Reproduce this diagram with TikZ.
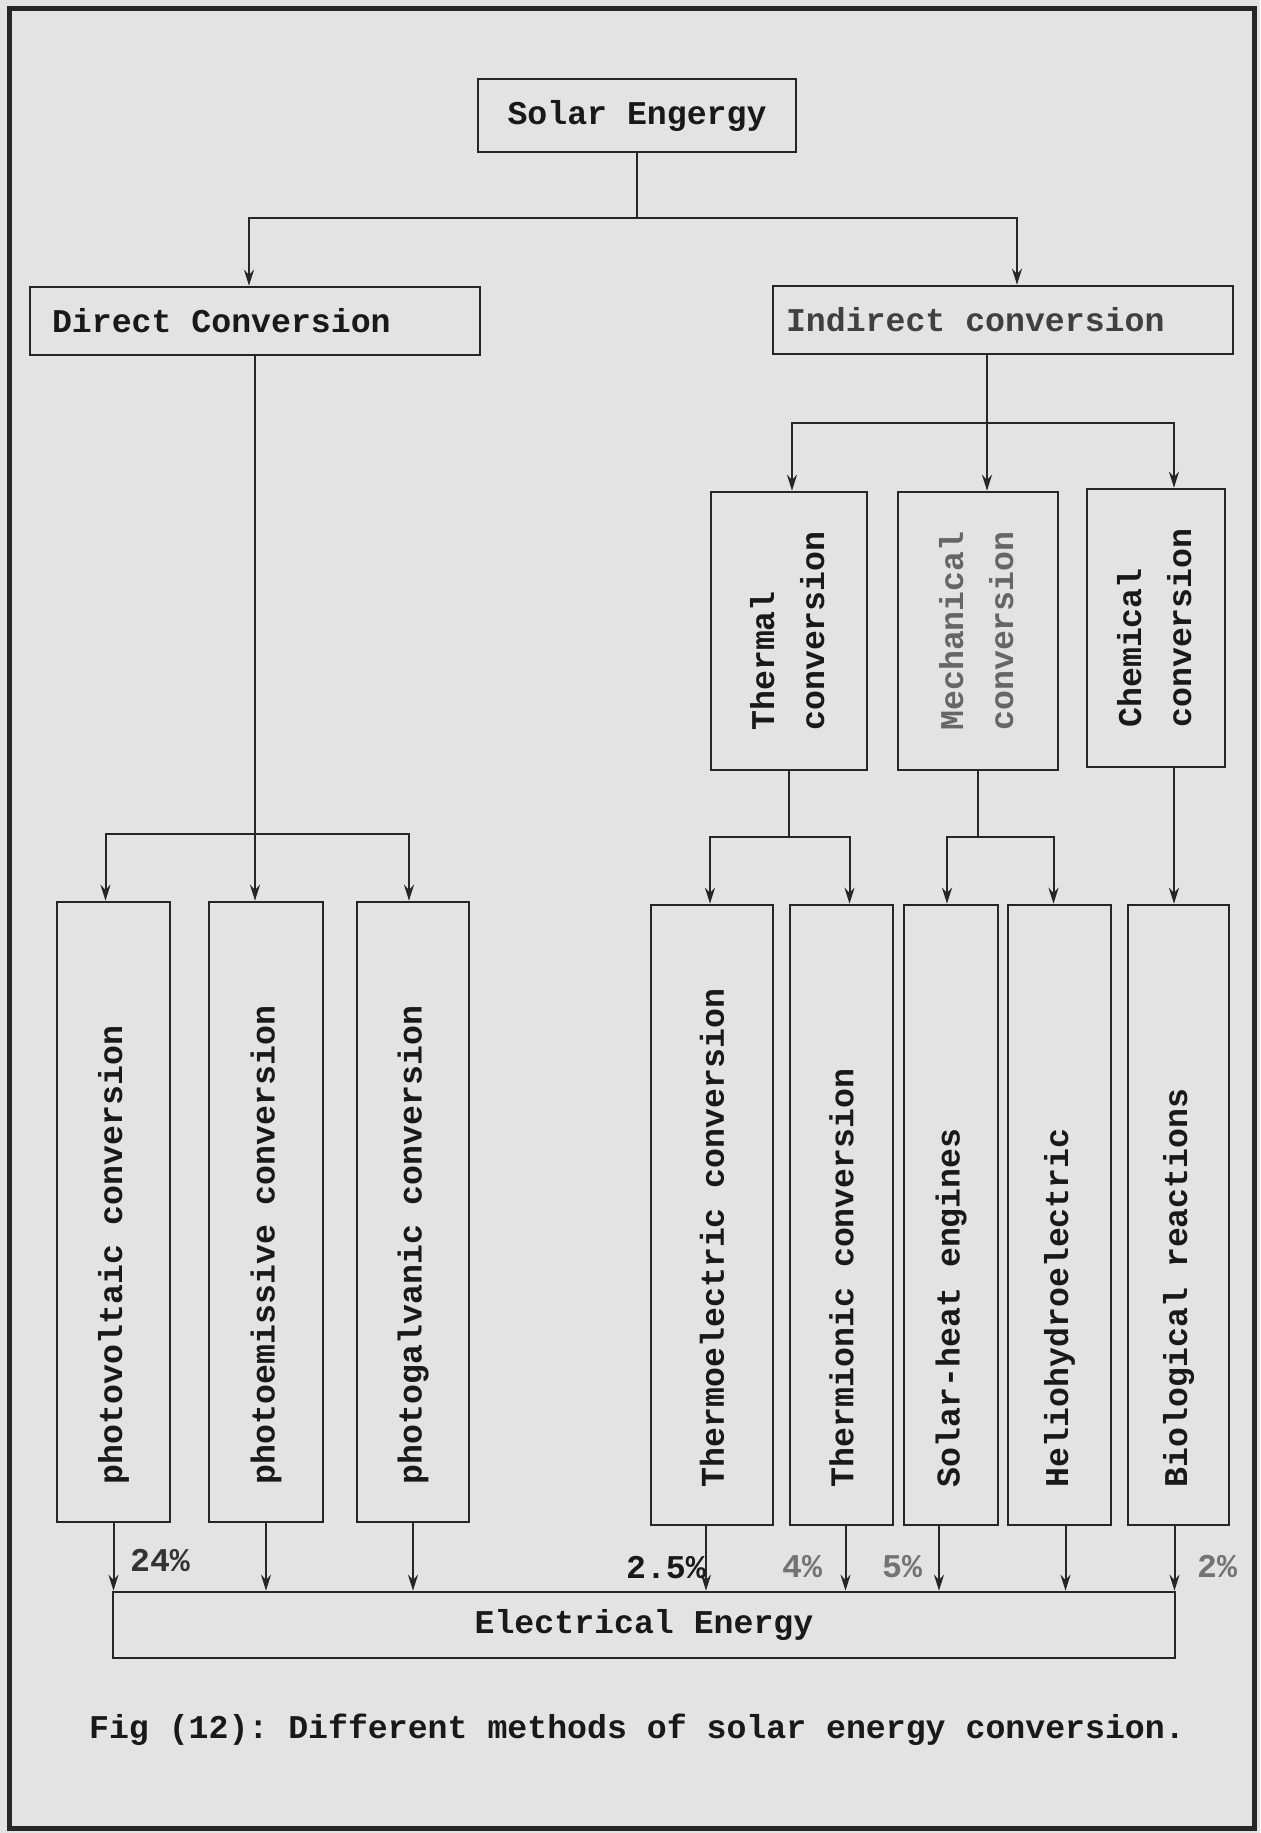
\documentclass[tikz,border=0pt]{standalone}
\usepackage{fontspec}
\setmonofont{Liberation Mono}
\usepackage{graphicx}
\usetikzlibrary{arrows.meta, positioning, calc}

\newcommand{\vtext}[1]{\rotatebox{90}{\makebox[272pt][l]{#1}}}
\newcommand{\vpair}[2]{\rotatebox{90}{\begin{tabular}{@{}l@{}}#1\\#2\end{tabular}}}

\begin{document}
\begin{tikzpicture}[x=0.5pt, y=-0.5pt,
  font=\ttfamily\bfseries\fontsize{16.6}{25}\selectfont,
  cell/.style={draw=black!85, line width=1.3pt, text=black!90, inner sep=0pt},
  tallcell/.style={cell, minimum height=310pt},
  wire/.style={draw=black!85, line width=1pt},
  arr/.style={wire, -{Stealth[length=8pt, width=5pt]}},
  pct/.style={text=black!80, inner sep=0pt}]

% Paper and frame.
\fill[black!11] (0,0) rectangle (1260,1833);
\useasboundingbox (0,0) rectangle (1260,1833);
\draw[line width=2.5pt, black!85] (9,8) rectangle (1254,1828);

% Top levels.
\node[cell, minimum width=159pt, minimum height=36.5pt] (solar) at (637,115.5) {Solar Engergy};
\node[cell, inner xsep=11pt, minimum height=34pt]
  (direct) at (255,321) {\makebox[203pt][l]{Direct Conversion}};
\node[cell, inner xsep=6.5pt, minimum height=34pt, text=black!75]
  (indirect) at (1003,320) {\makebox[217pt][l]{Indirect conversion}};

% Indirect branches.
\node[cell, minimum width=78pt, minimum height=139pt] (thermal) at (789,631) {\vpair{Thermal}{conversion}};
\node[cell, minimum width=80pt, minimum height=139pt, text=black!60] (mech) at (978,631) {\vpair{Mechanical}{conversion}};
\node[cell, minimum width=69pt, minimum height=139pt] (chem) at (1156,628) {\vpair{Chemical}{conversion}};

% Methods.
\node[tallcell, minimum width=56.5pt] (pv) at (113.5,1212) {\vtext{photovoltaic conversion}};
\node[tallcell, minimum width=57pt] (pe) at (266,1212) {\vtext{photoemissive conversion}};
\node[tallcell, minimum width=56pt] (pg) at (413,1212) {\vtext{photogalvanic conversion}};
\node[tallcell, minimum width=61pt] (te) at (712,1215) {\vtext{Thermoelectric conversion}};
\node[tallcell, minimum width=51.5pt] (ti) at (841.5,1215) {\vtext{Thermionic conversion}};
\node[tallcell, minimum width=47pt] (sh) at (951,1215) {\vtext{Solar-heat engines}};
\node[tallcell, minimum width=51.5pt] (hh) at (1059.5,1215) {\vtext{Heliohydroelectric}};
\node[tallcell, minimum width=50.5pt] (br) at (1178.5,1215) {\vtext{Biological reactions}};

\node[cell, minimum width=531pt, minimum height=33pt] (elec) at (644,1625) {Electrical Energy};

% Solar energy to the two conversion routes.
\coordinate (split1) at (solar.south |- 0,218);
\draw[wire] (solar.south) -- (split1);
\draw[arr] (split1) -| ([xshift=-3pt]direct.north);
\draw[arr] (split1) -| ([xshift=7pt]indirect.north);

% Indirect conversion.
\coordinate (istem) at ([xshift=-8pt]indirect.south);
\coordinate (split2) at (istem |- 0,423);
\draw[arr] (istem) -- (istem |- mech.north);
\draw[arr] (split2) -| ([xshift=1.5pt]thermal.north);
\draw[arr] (split2) -| ([xshift=9pt]chem.north);

% Direct conversion.
\coordinate (split3) at (direct.south |- 0,834);
\draw[wire] (direct.south) -- (split3);
\draw[arr] (split3) -- (split3 |- pe.north);
\draw[arr] (split3) -| ([xshift=-4pt]pv.north);
\draw[arr] (split3) -| ([xshift=-2pt]pg.north);

% Thermal and mechanical.
\coordinate (split4) at (thermal.south |- 0,837);
\coordinate (split5) at (mech.south |- 0,837);
\draw[wire] (thermal.south) -- (split4);
\draw[wire] (mech.south) -- (split5);
\draw[arr] (split4) -| ([xshift=-1pt]te.north);
\draw[arr] (split4) -| ([xshift=4pt]ti.north);
\draw[arr] (split5) -| ([xshift=-2pt]sh.north);
\draw[arr] (split5) -| ([xshift=-3pt]hh.north);
\coordinate (cstem) at ([xshift=9pt]chem.south);
\draw[arr] (cstem) -- (cstem |- br.north);

% Into electrical energy.
\coordinate (teo) at ([xshift=-3pt]te.south);
\coordinate (tio) at ([xshift=2pt]ti.south);
\coordinate (sho) at ([xshift=-6pt]sh.south);
\coordinate (hho) at ([xshift=3pt]hh.south);
\coordinate (bro) at ([xshift=-2pt]br.south);
\draw[arr] (pv.south) -- (pv.south |- elec.north);
\draw[arr] (pe.south) -- (pe.south |- elec.north);
\draw[arr] (pg.south) -- (pg.south |- elec.north);
\draw[arr] (teo) -- (teo |- elec.north);
\draw[arr] (tio) -- (tio |- elec.north);
\draw[arr] (sho) -- (sho |- elec.north);
\draw[arr] (hho) -- (hho |- elec.north);
\draw[arr] (bro) -- (bro |- elec.north);

% Efficiencies.
\node[pct] (eff1) at (160,1560) {24\%};
\node[pct, text=black!90] (eff2) at (666,1568) {2.5\%};
\node[pct, text=black!55] (eff3) at (802,1567) {4\%};
\node[pct, text=black!55] (eff4) at (902,1567) {5\%};
\node[pct, text=black!55] (eff5) at (1217,1566) {2\%};

\node[text=black!90] (caption) at (637,1730) {Fig (12): Different methods of solar energy conversion.};
\end{tikzpicture}
\end{document}
